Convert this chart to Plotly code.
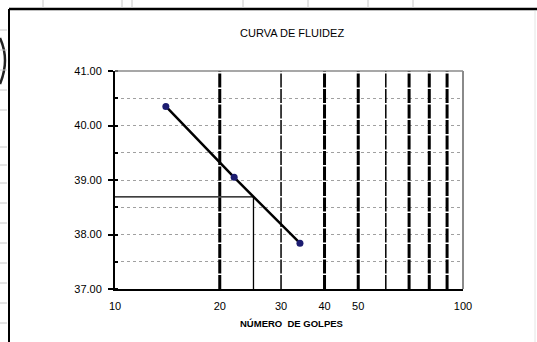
import plotly.graph_objects as go

# Flow curve (Casagrande liquid limit test)
golpes = [14, 22, 34]                 # number of blows
humedad = [40.35, 39.05, 37.84]       # water content (%)
golpes_ref = 25
humedad_ref = 38.69

x_tick_vals = [10, 20, 30, 40, 50, 100]
x_tick_text = ["10", "20", "30", "40", "50", "100"]
y_tick_vals = [37, 38, 39, 40, 41]
y_tick_text = ["37.00", "38.00", "39.00", "40.00", "41.00"]

# log-paper vertical rules: (position, width)
rules_x = [20, 30, 40, 50, 60, 70, 80, 90]
rules_w = [3, 1.5, 3, 3, 1.5, 3, 3, 3]

W, H = 537, 342
FONT = "Liberation Sans, Arial, sans-serif"


def px(x):
    return x / W


def py(y):
    return 1 - y / H


fig = go.Figure()

for xv, lw in zip(rules_x, rules_w):
    fig.add_trace(go.Scatter(
        x=[xv, xv], y=[37, 41], mode="lines",
        line=dict(color="black", width=lw, dash="14px,1.5px"),
        hoverinfo="skip", showlegend=False))

# reading at 25 blows
fig.add_trace(go.Scatter(
    x=[10, golpes_ref, golpes_ref], y=[humedad_ref, humedad_ref, 37],
    mode="lines", line=dict(color="black", width=1.3),
    hoverinfo="skip", showlegend=False))

fig.add_trace(go.Scatter(
    x=golpes, y=humedad, mode="lines+markers",
    line=dict(color="black", width=2.5),
    marker=dict(color="#1c1c70", size=7, symbol="circle"),
    showlegend=False))

fig.update_xaxes(
    type="log", range=[1, 2], automargin=False,
    domain=[px(115), px(463)],
    tickvals=x_tick_vals, ticktext=x_tick_text,
    ticks="outside", ticklen=6, tickcolor="rgba(0,0,0,0)",
    tickfont=dict(family=FONT, size=11, color="black"),
    showgrid=False, zeroline=False,
    showline=True, linecolor="black", linewidth=2)

fig.update_yaxes(
    range=[37, 41], automargin=False,
    domain=[py(289), py(71)],
    tickvals=y_tick_vals, ticktext=y_tick_text,
    ticks="outside", ticklen=5, tickcolor="black", tickwidth=1.5,
    ticklabelstandoff=4,
    tickfont=dict(family=FONT, size=11, color="black"),
    showgrid=True, gridcolor="#a0a0a0", gridwidth=1, griddash="dot",
    minor=dict(dtick=0.5, tick0=37, ticks="inside", ticklen=3,
               tickcolor="black", showgrid=True, gridcolor="#a0a0a0",
               griddash="dot"),
    zeroline=False,
    showline=True, linecolor="black", linewidth=2)

shapes = [
    # top and right frame of the plot area
    dict(type="line", xref="paper", yref="paper",
         x0=px(115), x1=px(463), y0=py(71), y1=py(71),
         line=dict(color="#8a8a8a", width=1.5)),
    dict(type="line", xref="paper", yref="paper",
         x0=px(463), x1=px(463), y0=py(71), y1=py(289),
         line=dict(color="#8a8a8a", width=2)),
    # chart frame
    dict(type="line", xref="paper", yref="paper",
         x0=px(9), x1=1, y0=py(9), y1=py(9),
         line=dict(color="black", width=2.5)),
    dict(type="line", xref="paper", yref="paper",
         x0=px(9), x1=px(9), y0=py(9), y1=0,
         line=dict(color="black", width=2)),
    dict(type="line", xref="paper", yref="paper",
         x0=px(535), x1=px(535), y0=py(11), y1=0,
         line=dict(color="#e4e4e4", width=1)),
    # edge of a shape behind the chart
    dict(type="path", xref="paper", yref="paper",
         path=f"M 0,{py(38)} Q {px(10)},{py(60)} 0,{py(84)}",
         line=dict(color="#222222", width=2.5)),
]
# worksheet cell borders around the chart
for xc in [43, 122, 132, 243, 308, 368, 413]:
    shapes.append(dict(type="line", xref="paper", yref="paper",
                       x0=px(xc), x1=px(xc), y0=1, y1=py(8),
                       line=dict(color="#c8c8c8", width=1)))
for yc in [30, 50, 70, 90, 110, 147, 165, 183, 203, 223, 243, 263, 283, 303, 323]:
    shapes.append(dict(type="line", xref="paper", yref="paper",
                       x0=0, x1=px(7), y0=py(yc), y1=py(yc),
                       line=dict(color="#c8c8c8", width=1)))

fig.update_layout(
    width=W, height=H, autosize=False,
    margin=dict(l=0, r=0, t=0, b=0, autoexpand=False),
    paper_bgcolor="white", plot_bgcolor="white",
    shapes=shapes,
    annotations=[
        dict(text="CURVA DE FLUIDEZ", xref="paper", yref="paper",
             x=px(292), y=py(33), xanchor="center", yanchor="middle",
             showarrow=False,
             font=dict(family=FONT, size=11, color="black")),
        dict(text="<b>NÚMERO  DE GOLPES</b>", xref="paper", yref="paper",
             x=px(291), y=py(323), xanchor="center", yanchor="middle",
             showarrow=False,
             font=dict(family=FONT, size=9.5, color="black")),
    ],
)

fig.write_html("out.html")
